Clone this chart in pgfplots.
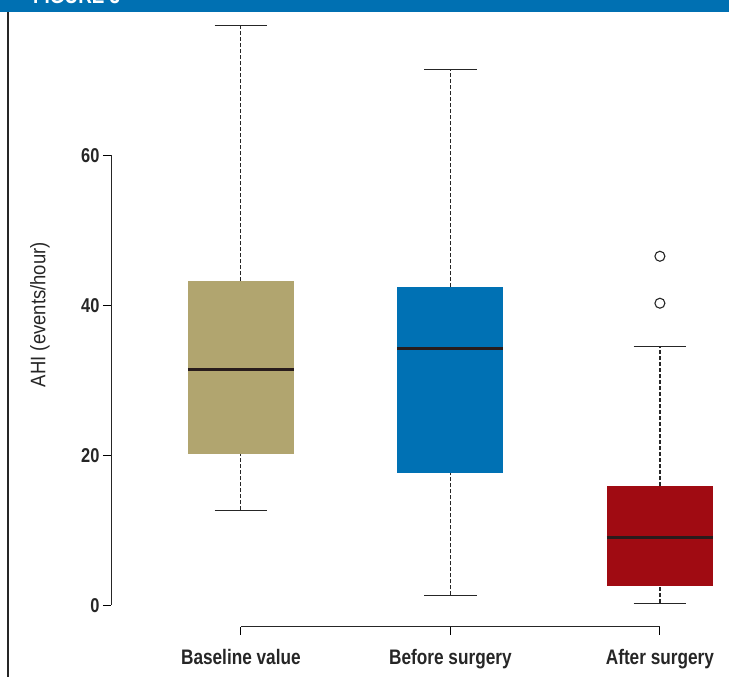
\documentclass[border=0pt]{standalone}
\usepackage{fontspec}
\setmainfont{Liberation Sans}
\newfontfamily\cond{Liberation Sans}[FakeStretch=0.82]
\newfontfamily\condy{Liberation Sans}[FakeStretch=0.88]
\usepackage{pgfplots}
\pgfplotsset{compat=1.18}
\definecolor{hdrblue}{RGB}{0,112,178}
\definecolor{khaki}{RGB}{177,165,111}
\definecolor{boxblue}{RGB}{0,113,180}
\definecolor{boxred}{RGB}{160,11,18}
\definecolor{medline}{RGB}{40,28,28}
\begin{document}
\begin{tikzpicture}
\useasboundingbox (0pt,0pt) rectangle (729pt,677pt);
\clip (0pt,0pt) rectangle (729pt,677pt);
\fill[hdrblue] (0pt,665.3pt) rectangle (729pt,677pt);
\node[anchor=base west, text=white, font=\fontsize{23}{26}\cond\bfseries, inner sep=0] at (33pt,673.5pt) {FIGURE 3};
\draw[line width=2pt, black!85] (8pt,0pt) -- (8pt,665.3pt);
\begin{axis}[
  at={(111pt,50pt)}, anchor=south west,
  scale only axis, width=678.8pt, height=624.75pt,
  xmin=0.38, xmax=3.62, ymin=-2.9, ymax=80.4,
  axis line style={draw=none},
  tick pos=left, tick align=outside,
  major tick length=8pt,
  tick style={black, line width=1pt},
  xtick={1,2,3},
  xticklabels={Baseline value, Before surgery, After surgery},
  ytick={0,20,40,60},
  /pgf/number format/assume math mode=true,
  yticklabel style={font=\fontsize{20}{24}\cond\bfseries, text=black!85},
  xticklabel style={font=\fontsize{21}{25}\cond\bfseries, text=black!85, yshift=-11pt},
  ylabel={AHI (events/hour)},
  ylabel style={at={(axis description cs:-0.1046,0.5)}, anchor=center, font=\fontsize{21}{24}\condy, text=black!85},
  clip=false,
]
% axis lines (R style)
\draw[line width=1pt, black!85] (axis cs:0.38,0) -- (axis cs:0.38,60);
\draw[line width=1pt, black!85] (axis cs:1,-2.9) -- (axis cs:3,-2.9);
% Baseline value: lw 12.67, q1 20.13, med 31.47, q3 43.2, uw 77.33
\addplot[draw=none, fill=khaki] coordinates {(0.747,20.13) (1.253,20.13) (1.253,43.2) (0.747,43.2)} -- cycle;
\addplot[black!85, line width=1.2pt, dash pattern=on 4pt off 2pt] coordinates {(1,43.2) (1,77.33)};
\addplot[black!85, line width=1.2pt, dash pattern=on 4pt off 2pt] coordinates {(1,12.67) (1,20.13)};
\addplot[black!85, line width=1.2pt] coordinates {(0.875,77.33) (1.125,77.33)};
\addplot[black!85, line width=1.2pt] coordinates {(0.875,12.67) (1.125,12.67)};
\addplot[medline, line width=3pt] coordinates {(0.747,31.47) (1.253,31.47)};
% Before surgery: lw 1.33, q1 17.6, med 34.27, q3 42.4, uw 71.47
\addplot[draw=none, fill=boxblue] coordinates {(1.747,17.6) (2.253,17.6) (2.253,42.4) (1.747,42.4)} -- cycle;
\addplot[black!85, line width=1.2pt, dash pattern=on 4pt off 2pt] coordinates {(2,42.4) (2,71.47)};
\addplot[black!85, line width=1.2pt, dash pattern=on 4pt off 2pt] coordinates {(2,1.33) (2,17.6)};
\addplot[black!85, line width=1.2pt] coordinates {(1.875,71.47) (2.125,71.47)};
\addplot[black!85, line width=1.2pt] coordinates {(1.875,1.33) (2.125,1.33)};
\addplot[medline, line width=3pt] coordinates {(1.747,34.27) (2.253,34.27)};
% After surgery: lw 0.27, q1 2.53, med 9.07, q3 15.87, uw 34.53
\addplot[draw=none, fill=boxred] coordinates {(2.747,2.53) (3.253,2.53) (3.253,15.87) (2.747,15.87)} -- cycle;
\addplot[black!85, line width=1.2pt, dash pattern=on 4pt off 2pt] coordinates {(3,15.87) (3,34.53)};
\addplot[black!85, line width=1.2pt, dash pattern=on 4pt off 2pt] coordinates {(3,0.27) (3,2.53)};
\addplot[black!85, line width=1.2pt] coordinates {(2.875,34.53) (3.125,34.53)};
\addplot[black!85, line width=1.2pt] coordinates {(2.875,0.27) (3.125,0.27)};
\addplot[medline, line width=3pt] coordinates {(2.747,9.07) (3.253,9.07)};
% outliers
\addplot[only marks, mark=o, mark size=5pt, black!85, mark options={line width=1.1pt}] coordinates {(3,46.53) (3,40.27)};
\end{axis}
\end{tikzpicture}
\end{document}
